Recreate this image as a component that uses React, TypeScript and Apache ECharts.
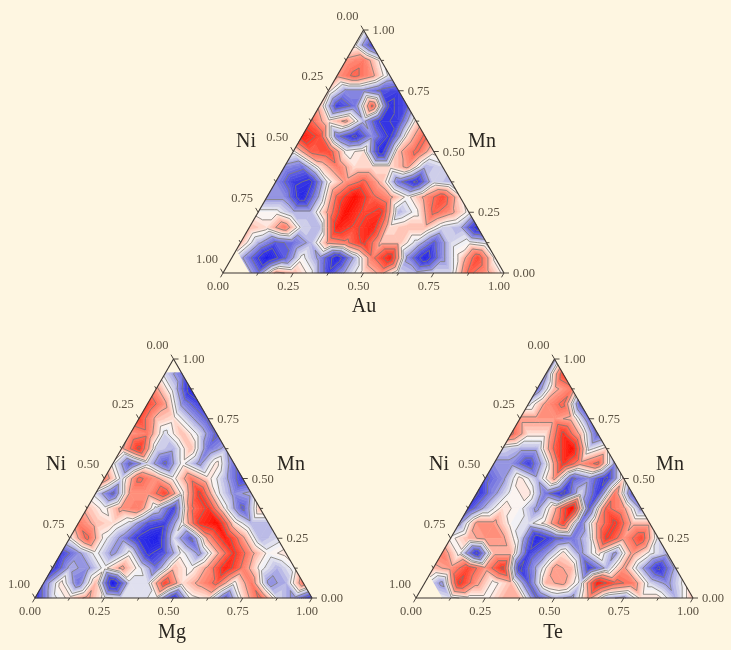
import React, { useEffect, useRef } from "react";
import * as echarts from "echarts";

const tickLabels = ["0.00", "0.25", "0.50", "0.75", "1.00"];
const tickFractions = [0, 0.125, 0.25, 0.375, 0.5, 0.625, 0.75, 0.875, 1];

// Each list holds one lattice row, from the Mn = 1 apex to the Mn = 0 base. Scale: -9 blue .. 9 red.
const auValues: number[][] = [
  [0],
  [0, -6],
  [3, 4, 0],
  [3, 5, 3, -1],
  [1, -3, -3, -5, -6],
  [2, -6, -4, 5, -7, -5],
  [5, 1, 3, -2, -7, -6, 1],
  [8, 6, -4, -7, -3, -7, 1, 5],
  [0, 5, 6, 0, 1, -8, 2, 5, 1],
  [-3, -4, 1, 4, 1, 1, 1, 3, -2, -1],
  [-3, -6, -7, 0, 3, 5, 2, -4, -7, -1, -2],
  [-3, -3, -8, -2, 5, 9, 5, 3, 0, 3, 6, 1],
  [0, 0, -2, -2, 3, 9, 6, 7, -2, 0, 5, 3, 0],
  [2, 1, 4, -1, -2, 8, 6, 8, 1, 2, 2, -1, -2, -8],
  [2, -2, -5, -4, -2, 3, 4, 7, 2, 2, -1, -5, -1, 0, -1],
  [0, -4, -9, -5, 0, -3, -8, -2, 4, 8, -3, -8, -3, 1, 6, 0],
  [0, 0, -4, 3, 2, 0, -6, -2, 1, 3, -1, -2, -1, -1, 5, 3, 0],
];
const mgValues: number[][] = [
  [0],
  [-1, -4],
  [3, -1, -8],
  [6, 3, -3, -6],
  [6, 2, 1, -2, -5],
  [3, 4, -1, 2, -1, -5],
  [2, 7, -1, -2, 2, -4, -2],
  [0, -5, -1, -5, 0, -3, 1, -4],
  [4, -1, 5, 3, 0, 4, 1, -2, -6],
  [-1, -5, 3, 3, 6, 0, 7, 0, -3, -2],
  [2, 0, 3, 4, -1, -6, 4, 7, 0, -5, 2],
  [4, 2, 1, -1, -5, -6, 0, 7, 9, 1, -2, -2],
  [0, 5, 0, -3, -7, -9, -1, -5, 3, 8, 3, -2, -1],
  [-6, -3, 0, -3, 0, -7, -5, 0, -3, 2, 7, 3, 0, 1],
  [-7, -2, -3, 0, 3, 0, -4, 2, 0, 3, 8, 4, 0, -2, 0],
  [-4, 1, -4, 2, -9, -1, -1, 6, 1, 3, 5, 0, 4, -3, -2, 4],
  [-7, -1, 1, 3, 0, -1, -1, 0, -7, 0, 1, -5, 1, 5, -1, -3, -7],
];
const teValues: number[][] = [
  [-3],
  [-3, 6],
  [-4, 2, 4],
  [-1, 3, 5, -5],
  [3, 3, 3, 2, -4],
  [5, 1, 1, 7, 2, -5],
  [-1, -2, -2, 5, 9, -1, 1],
  [-3, -3, -6, -1, 7, 3, 5, -3],
  [-5, -3, 1, -2, 3, -5, -3, -7, 1],
  [-7, -3, 0, 1, -4, -7, -1, -6, 4, -5],
  [-6, -2, 1, 0, -3, 2, 9, -5, 5, 3, -3],
  [-3, 3, 3, 0, -1, 1, 6, -4, 3, 7, 2, 2],
  [0, 2, 3, 3, -1, -8, -5, -4, -1, 7, 3, 6, -1],
  [4, 0, -7, 2, 2, -6, -3, 1, -3, 1, -3, 3, 0, -2],
  [2, 3, 6, 3, 7, -7, -2, 3, 2, -6, -2, 3, -2, -7, -2],
  [0, -3, 7, 3, 0, 2, -5, 2, 3, -1, 8, 5, 4, -1, -3, 0],
  [0, 0, -1, 0, 0, 2, 2, -5, -2, -3, 3, -2, -3, 1, 1, -2, 2],
];

// Blank (uncomputed) regions, as [x fraction, Mn fraction].
const auBlank = [[0, 0], [0.0475, 0.095], [0.095, 0]];
const teBlank = [[0, 0], [0.0475, 0.095], [0.095, 0]];
const mgBlank = [[0.5, 1], [0.4725, 0.945], [0.5275, 0.945]];

const contourLevels = [-6.5, -4.5, -2.5, -0.5, 0.5, 2.5, 4.5, 6.5];
const colorStops: [number, number[]][] = [
  [-9, [26, 26, 235]],
  [-6, [60, 60, 225]],
  [-3, [140, 140, 225]],
  [-1, [215, 215, 235]],
  [0, [250, 250, 250]],
  [1, [255, 225, 215]],
  [3, [255, 150, 130]],
  [6, [255, 70, 50]],
  [9, [255, 10, 0]],
];
const BAND = 0.5;
const background = "#FEF6E1";
const FONT = "Liberation Serif";

const panels = [
  { name: "Au", values: auValues, blank: auBlank, left: 223, top: 30, width: 281, height: 243, niPos: [246, 140], mnPos: [482, 140], basePos: [364, 305] },
  { name: "Mg", values: mgValues, blank: mgBlank, left: 35, top: 359, width: 277, height: 239, niPos: [56, 463], mnPos: [291, 463], basePos: [172, 631] },
  { name: "Te", values: teValues, blank: teBlank, left: 416, top: 359, width: 277, height: 239, niPos: [439, 463], mnPos: [670, 463], basePos: [553, 631] },
];

function colorOf(v: number) {
  const c = Math.max(-9, Math.min(9, v));
  for (let i = 0; i < colorStops.length - 1; i++) {
    const [a, ca] = colorStops[i];
    const [b, cb] = colorStops[i + 1];
    if (c <= b) {
      const t = (c - a) / (b - a);
      const m = ca.map((x, k) => Math.round(x + (cb[k] - x) * t));
      return `rgb(${m[0]},${m[1]},${m[2]})`;
    }
  }
  return "rgb(255,10,0)";
}

type P = [number, number, number];

function clipAbove(poly: P[], level: number, keepAbove: boolean): P[] {
  const out: P[] = [];
  const inside = (p: P) => (keepAbove ? p[2] >= level : p[2] <= level);
  for (let i = 0; i < poly.length; i++) {
    const a = poly[i];
    const b = poly[(i + 1) % poly.length];
    if (inside(a)) out.push(a);
    if (inside(a) !== inside(b)) {
      const t = (level - a[2]) / (b[2] - a[2]);
      out.push([a[0] + (b[0] - a[0]) * t, a[1] + (b[1] - a[1]) * t, level]);
    }
  }
  return out;
}

function buildCells(values: number[][]) {
  const n = values.length - 1;
  const node = (r: number, j: number): P => [0.5 - r / (2 * n) + j / n, 1 - r / n, values[r][j]];
  const cells: number[][] = [];
  for (let r = 0; r < n; r++) {
    for (let j = 0; j <= r; j++) {
      cells.push([...node(r, j), ...node(r + 1, j), ...node(r + 1, j + 1)]);
      if (j < r) cells.push([...node(r, j), ...node(r, j + 1), ...node(r + 1, j + 1)]);
    }
  }
  return cells;
}

const cellOf = (api: any): P[] =>
  [0, 3, 6].map((o) => [api.value(o), api.value(o + 1), api.value(o + 2)] as P);

function renderBands(_: any, api: any) {
  const tri = cellOf(api);
  const vals = tri.map((p) => p[2]);
  const lo = Math.floor(Math.min(...vals) / BAND);
  const hi = Math.ceil(Math.max(...vals) / BAND);
  const children: any[] = [];
  for (let b = lo; b <= Math.max(lo, hi - 1); b++) {
    const low = b * BAND;
    const high = low + BAND;
    let poly = clipAbove(tri, low, true);
    if (poly.length) poly = clipAbove(poly, high, false);
    if (poly.length < 3) continue;
    const col = colorOf(low + BAND / 2);
    children.push({
      type: "polygon",
      shape: { points: poly.map((p) => api.coord([p[0], p[1]])) },
      style: { fill: col, stroke: col, lineWidth: 0.6 },
    });
  }
  return { type: "group", children };
}

function renderContours(_: any, api: any) {
  const tri = cellOf(api);
  const children: any[] = [];
  contourLevels.forEach((level) => {
    const pts: number[][] = [];
    for (let i = 0; i < 3; i++) {
      const a = tri[i];
      const b = tri[(i + 1) % 3];
      if (a[2] < level !== b[2] < level) {
        const t = (level - a[2]) / (b[2] - a[2]);
        pts.push(api.coord([a[0] + (b[0] - a[0]) * t, a[1] + (b[1] - a[1]) * t]));
      }
    }
    if (pts.length === 2) {
      children.push({
        type: "line",
        shape: { x1: pts[0][0], y1: pts[0][1], x2: pts[1][0], y2: pts[1][1] },
        style: { stroke: "#7b7873", lineWidth: 0.8 },
      });
    }
  });
  return { type: "group", children };
}

function edgePoint(axis: number, f: number) {
  if (axis === 0) return [f, 0];
  if (axis === 1) return [1 - f / 2, f];
  return [(1 - f) / 2, 1 - f];
}
const tickDir = [
  [-0.5, 0.866],
  [1, 0],
  [-0.5, -0.866],
];
const labelOffset = [
  [-5, 13],
  [20, 0],
  [-16, -14.5],
];

function renderFrame(_: any, api: any) {
  const axis = api.value(0);
  const f = api.value(1);
  const p = api.coord(edgePoint(axis, f));
  const major = Math.round(f * 8) % 2 === 0;
  const len = major ? 5 : 3;
  const d = tickDir[axis];
  const children: any[] = [
    {
      type: "line",
      shape: { x1: p[0], y1: p[1], x2: p[0] + d[0] * len, y2: p[1] + d[1] * len },
      style: { stroke: "#3c3630", lineWidth: 0.9 },
    },
  ];
  if (major) {
    children.push({
      type: "text",
      x: p[0] + labelOffset[axis][0],
      y: p[1] + labelOffset[axis][1],
      style: {
        text: tickLabels[Math.round(f * 4)],
        fill: "#5a5142",
        font: `12.5px "${FONT}"`,
        align: "center",
        verticalAlign: "middle",
      },
    });
  }
  if (f === 0) {
    const q = api.coord(edgePoint(axis, 1));
    children.push({
      type: "line",
      shape: { x1: p[0], y1: p[1], x2: q[0], y2: q[1] },
      style: { stroke: "#3c3630", lineWidth: 1.1 },
    });
  }
  return { type: "group", children };
}

function renderBlank(_: any, api: any) {
  const pts = [0, 2, 4].map((o) => api.coord([api.value(o), api.value(o + 1)]));
  return { type: "polygon", shape: { points: pts }, style: { fill: background } };
}

function buildOption() {
  const series: any[] = [];
  const grid: any[] = [];
  const xAxis: any[] = [];
  const yAxis: any[] = [];
  const graphic: any[] = [];
  panels.forEach((p, i) => {
    grid.push({ left: p.left, top: p.top, width: p.width, height: p.height });
    xAxis.push({ type: "value", gridIndex: i, min: 0, max: 1, show: false });
    yAxis.push({ type: "value", gridIndex: i, min: 0, max: 1, show: false });
    const base = { type: "custom", coordinateSystem: "cartesian2d", xAxisIndex: i, yAxisIndex: i, clip: false, silent: true };
    const cells = buildCells(p.values);
    series.push({ ...base, z: 2, renderItem: renderBands, data: cells, encode: { x: 0, y: 1 } });
    series.push({ ...base, z: 3, renderItem: renderContours, data: cells, encode: { x: 0, y: 1 } });
    series.push({ ...base, z: 4, renderItem: renderBlank, data: [p.blank.flat()], encode: { x: 0, y: 1 } });
    const frame: number[][] = [];
    [0, 1, 2].forEach((a) => tickFractions.forEach((f) => frame.push([a, f])));
    series.push({ ...base, z: 5, renderItem: renderFrame, data: frame, encode: { x: 1, y: 1 } });
    [["Ni", p.niPos], ["Mn", p.mnPos], [p.name, p.basePos]].forEach(([t, pos]: any) => {
      graphic.push({
        type: "text",
        x: pos[0],
        y: pos[1],
        style: { text: t, fill: "#2a2620", font: `20px "${FONT}"`, align: "center", verticalAlign: "middle" },
      });
    });
  });
  return { animation: false, backgroundColor: background, tooltip: { show: false }, grid, xAxis, yAxis, series, graphic };
}

export default function App() {
  const ref = useRef<HTMLDivElement>(null);
  useEffect(() => {
    document.body.style.margin = "0";
    const chart = echarts.init(ref.current!, null, { renderer: "svg" });
    chart.setOption(buildOption() as any);
    return () => chart.dispose();
  }, []);
  return <div ref={ref} style={{ width: 731, height: 650, filter: "blur(0.35px)" }} />;
}
